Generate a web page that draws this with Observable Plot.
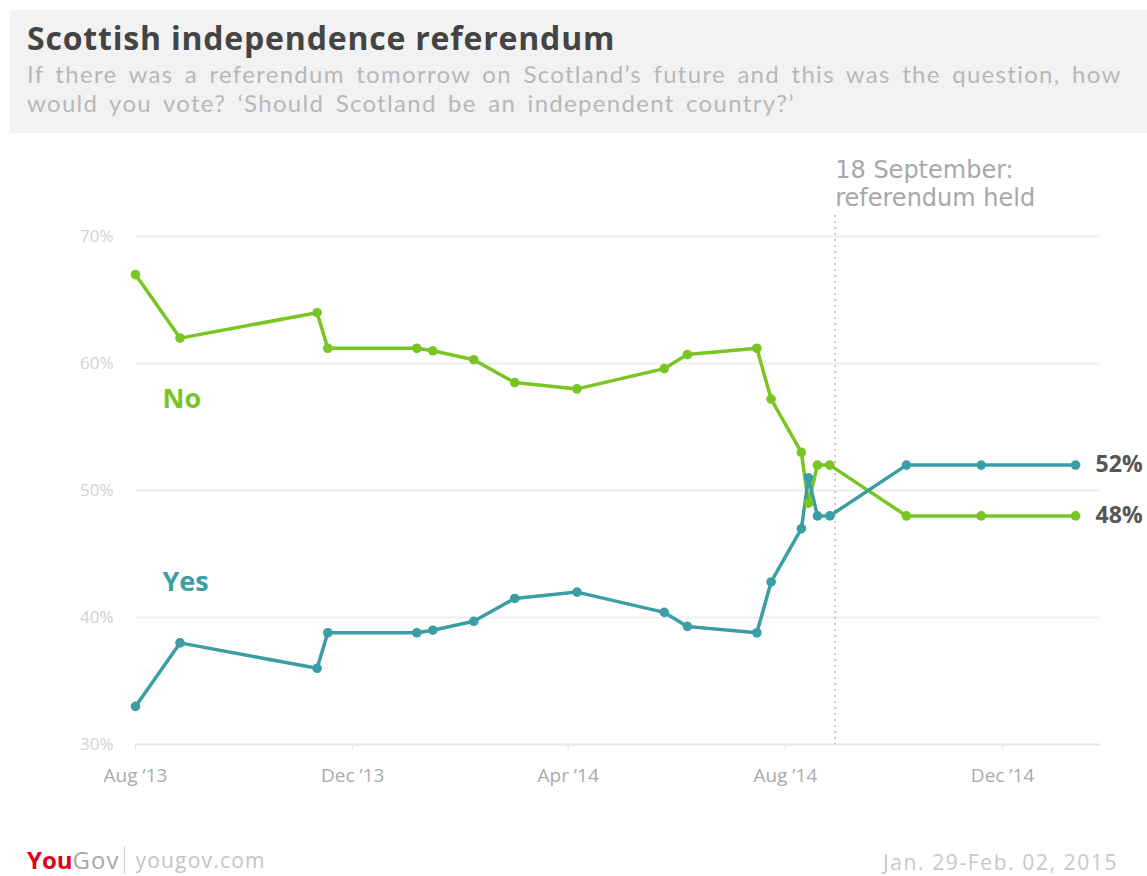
<!DOCTYPE html>
<html>
<head>
<meta charset="utf-8">
<script src="https://cdn.jsdelivr.net/npm/d3@7"></script>
<script src="https://cdn.jsdelivr.net/npm/@observablehq/plot@0.6"></script>
<style>
  html, body { margin: 0; padding: 0; background: #ffffff; }
  body { width: 1147px; height: 876px; position: relative; overflow: hidden; font-family: "Open Sans", Lato, sans-serif; }
  #header { position: absolute; left: 10px; top: 10px; width: 1137px; height: 123px; background: #f2f2f2; }
  #title { position: absolute; left: 17px; top: 6px; font-size: 32px; font-weight: 700; color: #444444; letter-spacing: 0.8px; white-space: nowrap; }
  #subtitle { position: absolute; left: 17px; top: 49px; font-family: Lato, "Open Sans", sans-serif; font-size: 24px; font-weight: 400; color: #b8b8b8; line-height: 29px; letter-spacing: 1.3px; word-spacing: 4px; white-space: nowrap; }
  #chart { position: absolute; left: 0; top: 140px; }
  #footer-left { position: absolute; left: 27px; top: 843px; font-size: 24px; white-space: nowrap; display: flex; align-items: center; }
  #footer-left .you { color: #e0001b; font-weight: 700; letter-spacing: 0px; }
  #footer-left .gov { color: #a8a8a8; font-weight: 400; letter-spacing: 1px; }
  #footer-left .sep { display: inline-block; width: 1px; height: 28px; background: #cfcfcf; margin: 0 10px 0 5px; }
  #footer-left .site { color: #c4c4c4; font-size: 21px; letter-spacing: 1.2px; }
  #footer-right { position: absolute; right: 29px; top: 848px; font-size: 21px; color: #c8c8c8; white-space: nowrap; letter-spacing: 1.6px; }
</style>
</head>
<body>
<div id="header">
  <div id="title">Scottish independence referendum</div>
  <div id="subtitle">If there was a referendum tomorrow on Scotland’s future and this was the question, how<br>would you vote? ‘Should Scotland be an independent country?’</div>
</div>
<div id="chart"></div>
<div id="footer-left"><span class="you">You</span><span class="gov">Gov</span><span class="sep"></span><span class="site">yougov.com</span></div>
<div id="footer-right">Jan. 29-Feb. 02, 2015</div>
<script>
// ---- data ----
const pollDates = [
  "2013-08-21", "2013-09-15", "2013-12-01", "2013-12-07", "2014-01-26",
  "2014-02-04", "2014-02-27", "2014-03-22", "2014-04-26", "2014-06-14",
  "2014-06-27", "2014-08-05", "2014-08-13", "2014-08-30", "2014-09-03",
  "2014-09-08", "2014-09-15", "2014-10-28", "2014-12-09", "2015-01-31"
];
const noShare  = [67, 62, 64, 61.2, 61.2, 61, 60.3, 58.5, 58, 59.6, 60.7, 61.2, 57.2, 53, 49, 52, 52, 48, 48, 48];
const yesShare = [33, 38, 36, 38.8, 38.8, 39, 39.7, 41.5, 42, 40.4, 39.3, 38.8, 42.8, 47, 51, 48, 48, 52, 52, 52];
const answers = ["No", "Yes"];
const answerColors = ["#78c523", "#3b9ea4"];
const yTicks = [30, 40, 50, 60, 70];
const xTickDates = ["2013-08-21", "2013-12-21", "2014-04-21", "2014-08-21", "2014-12-21"];
const xTickLabels = ["Aug ’13", "Dec ’13", "Apr ’14", "Aug ’14", "Dec ’14"];
const xDomain = ["2013-08-21", "2015-02-14"];
const referendumDate = "2014-09-18";
const referendumNote = "18 September:\nreferendum held";

// ---- build table ----
const parse = d3.utcParse("%Y-%m-%d");
const rows = pollDates.flatMap((d, i) => [
  {date: parse(d), share: noShare[i], answer: answers[0]},
  {date: parse(d), share: yesShare[i], answer: answers[1]}
]);
const tickMap = new Map(xTickDates.map((d, i) => [+parse(d), xTickLabels[i]]));
const refDate = parse(referendumDate);

const chart = Plot.plot({
  width: 1147,
  height: 680,
  marginTop: 96,
  marginBottom: 76,
  marginLeft: 135,
  marginRight: 47,
  style: {fontFamily: "'Open Sans', Lato, sans-serif", background: "transparent", overflow: "visible"},
  x: {type: "utc", domain: xDomain.map(parse)},
  y: {domain: [yTicks[0], yTicks[yTicks.length - 1]]},
  color: {domain: answers, range: answerColors},
  marks: [
    Plot.ruleY(yTicks.slice(1), {stroke: "#efefef", strokeWidth: 2}),
    Plot.ruleY([yTicks[0]], {stroke: "#e6e6e6", strokeWidth: 2}),
    Plot.axisY(yTicks, {tickSize: 0, tickPadding: 22, tickFormat: d => d + "%", fill: "#d2d2d2", fontSize: 17, label: null}),
    Plot.axisX(xTickDates.map(parse), {tickSize: 6, stroke: "#e6e6e6", tickPadding: 18, tickFormat: d => tickMap.get(+d), fill: "#aaaaaa", fontSize: 19, label: null}),
    Plot.ruleX([refDate], {stroke: "#b4b4b4", strokeWidth: 1.5, strokeDasharray: "2,4", insetTop: -21}),
    Plot.text([refDate], {x: d => d, frameAnchor: "top", text: [referendumNote], textAnchor: "start", lineAnchor: "top", dy: -79, fontSize: 24, lineHeight: 1.175, fill: "#a8a8a8", fontFamily: "'DejaVu Sans', Lato, sans-serif", style: {letterSpacing: "0.6px"}}),
    Plot.line(rows, {x: "date", y: "share", z: "answer", stroke: "answer", strokeWidth: 3.5, strokeLinejoin: "round"}),
    Plot.dot(rows, {x: "date", y: "share", fill: "answer", r: 4.8}),
    Plot.text(rows.filter(d => d.answer === answers[0]), Plot.selectFirst({x: "date", y: "share", text: "answer", fill: "answer", dx: 27, dy: 125, textAnchor: "start", fontSize: 27, fontWeight: "bold", style: {letterSpacing: "1.2px"}})),
    Plot.text(rows.filter(d => d.answer === answers[1]), Plot.selectFirst({x: "date", y: "share", text: "answer", fill: "answer", dx: 27, dy: -124, textAnchor: "start", fontSize: 27, fontWeight: "bold", style: {letterSpacing: "1.8px"}})),
    Plot.text(rows, Plot.selectLast({x: "date", y: "share", z: "answer", text: d => d.share + "%", dx: 20, textAnchor: "start", fontSize: 23, fontWeight: "bold", fill: "#555555"}))
  ]
});
document.getElementById("chart").appendChild(chart);
</script>
</body>
</html>
